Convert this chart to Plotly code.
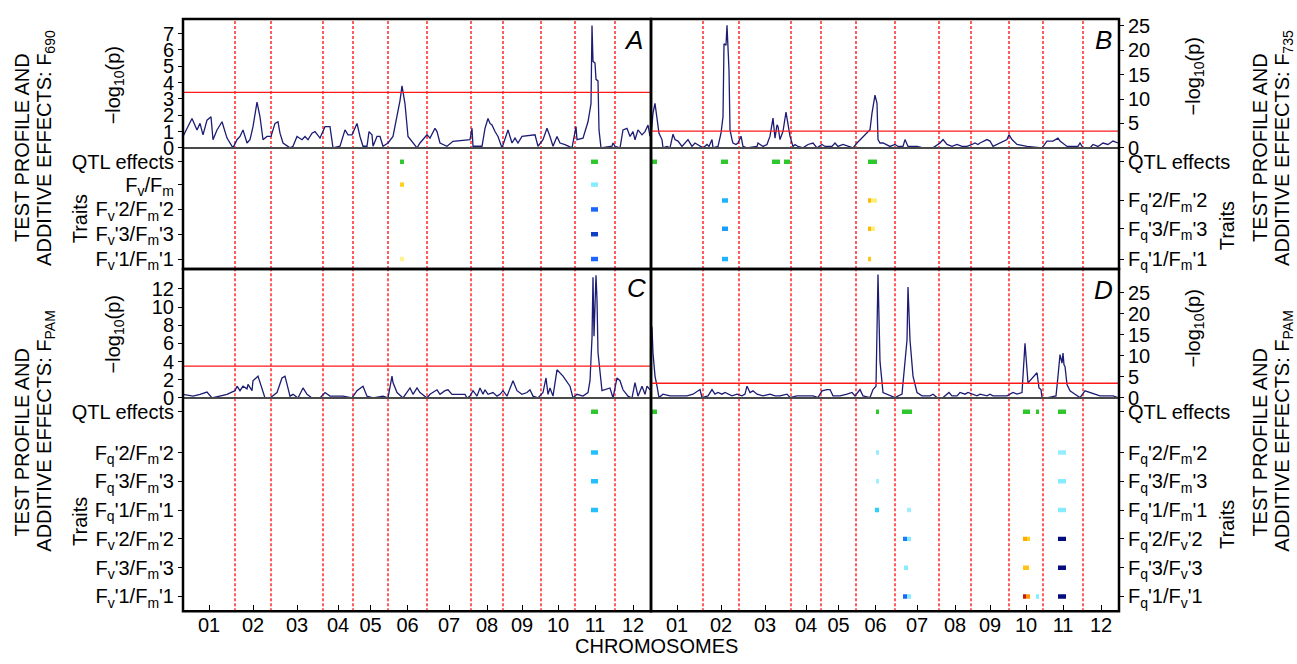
import plotly.graph_objects as go
import numpy as np

# ---------------- data ----------------
chrom_names = ["01", "02", "03", "04", "05", "06", "07", "08", "09", "10", "11", "12"]
chrom_len = [52, 36, 52, 30, 35, 39, 44, 32, 38, 34, 40, 36]

A_pos = [0, 9, 14, 17, 20, 24, 28, 30, 34, 39,
         44, 50, 54, 57, 60, 64, 67, 70, 74, 77,
         80, 84, 88, 92, 95, 97, 100, 107, 110, 114,
         119, 122, 125, 129, 132, 137, 142, 147, 150, 157,
         162, 165, 169, 174, 177, 180, 184, 186, 189, 190,
         194, 197, 200, 205, 210, 214, 217, 219, 222, 225,
         234, 237, 244, 247, 252, 254, 257, 264, 270, 287,
         289, 290, 299, 302, 305, 307, 309, 312, 315, 319,
         322, 325, 329, 332, 335, 339, 352, 355, 360, 364,
         367, 370, 374, 377, 382, 389, 393, 394, 400, 405,
         408, 409, 410, 412, 413, 415, 416, 418, 429, 430,
         432, 437, 440, 444, 447, 450, 452, 455, 459, 462,
         465, 467]
A_val = [0.7, 1.8, 1.1, 1.5, 0.8, 1.7, 1.9, 0.5, 1.1, 1.6,
         0.6, 0.0, 0.5, 0.7, 1.1, 0.3, 0.5, 1.3, 2.8, 1.9,
         0.5, 0.7, 0.7, 1.5, 1.6, 0.9, 0.3, 0.0, 0.1, 0.7,
         0.5, 0.7, 0.5, 0.9, 1.0, 0.6, 1.3, 1.3, 0.0, 0.1,
         1.1, 0.8, 0.8, 1.5, 0.7, 0.1, 0.1, 1.0, 0.8, 0.1,
         0.7, 0.7, 0.1, 0.3, 0.7, 1.9, 2.9, 3.8, 2.7, 0.7,
         0.0, 0.3, 0.8, 0.6, 1.2, 1.0, 0.3, 0.1, 0.4, 0.5,
         1.2, 0.1, 0.1, 1.2, 1.8, 1.5, 1.4, 1.0, 0.7, 0.0,
         0.5, 1.1, 0.3, 0.6, 0.3, 0.7, 0.8, 0.1, 0.5, 1.2,
         0.7, 0.1, 0.7, 0.3, 0.2, 0.0, 1.3, 0.5, 0.6, 1.6,
         2.7, 7.5, 5.3, 5.2, 4.2, 4.1, 1.1, 0.0, 0.1, 0.3,
         0.1, 0.0, 1.1, 1.2, 0.7, 1.0, 0.5, 1.1, 0.8, 1.0,
         1.4, 0.7]

B_pos = [0, 2, 4, 6, 8, 11, 12, 16, 19, 22,
         24, 27, 31, 37, 41, 44, 49, 52, 56, 58,
         61, 62, 67, 70, 72, 73, 75, 76, 78, 79,
         81, 82, 85, 87, 90, 92, 96, 106, 107, 112,
         116, 119, 122, 124, 126, 127, 129, 132, 135, 137,
         139, 142, 144, 147, 152, 157, 162, 166, 171, 174,
         181, 184, 187, 192, 197, 202, 206, 211, 214, 219,
         221, 224, 226, 227, 229, 232, 239, 244, 247, 252,
         254, 257, 266, 272, 282, 289, 292, 296, 301, 306,
         311, 316, 321, 324, 327, 329, 336, 339, 342, 352,
         356, 358, 361, 366, 376, 391, 396, 402, 407, 409,
         416, 427, 429, 432, 439, 442, 447, 452, 457, 462,
         467]
B_val = [2.5, 7.1, 9.1, 6.4, 3.0, 1.7, 0.0, 0.3, 0.0, 2.8,
         1.7, 1.4, 0.3, 1.7, 0.3, 1.0, 0.3, 0.0, 0.7, 0.3,
         1.7, 0.0, 0.3, 3.0, 6.4, 21.3, 21.0, 25.1, 15.9, 3.7,
         1.7, 1.0, 0.7, 1.0, 2.4, 0.3, 0.0, 0.3, 1.0, 0.3,
         0.7, 2.4, 6.1, 2.0, 4.7, 4.4, 1.7, 3.4, 7.3, 5.1,
         2.4, 0.3, 0.7, 0.3, 0.0, 0.7, 1.0, 0.0, 0.7, 0.3,
         0.3, 1.0, 0.3, 0.7, 0.3, 0.0, 1.0, 2.0, 2.7, 3.7,
         7.1, 10.8, 9.1, 1.7, 1.0, 1.0, 0.3, 0.7, 0.3, 0.3,
         1.7, 0.3, 0.3, 0.0, 0.0, 1.0, 1.7, 0.7, 0.3, 0.7,
         0.3, 0.3, 0.7, 1.0, 0.7, 1.0, 1.7, 1.4, 0.3, 1.4,
         1.7, 2.7, 1.7, 0.7, 0.3, 0.0, 1.4, 1.4, 2.0, 1.4,
         0.3, 0.3, 1.0, 0.0, 0.0, 0.7, 0.3, 1.0, 0.7, 1.4,
         1.0]

C_pos = [0, 10, 17, 24, 29, 37, 44, 52, 54, 57,
         60, 64, 65, 69, 70, 75, 79, 82, 87, 94,
         99, 102, 107, 110, 115, 120, 124, 129, 137, 142,
         147, 160, 169, 174, 180, 184, 190, 200, 205, 209,
         210, 214, 220, 224, 227, 230, 234, 237, 244, 247,
         254, 257, 262, 265, 269, 282, 284, 287, 290, 294,
         297, 300, 302, 305, 310, 314, 317, 320, 324, 330,
         334, 339, 344, 347, 350, 355, 360, 363, 365, 367,
         370, 374, 380, 387, 390, 394, 400, 405, 407, 409,
         410, 411, 413, 414, 415, 419, 427, 430, 434, 437,
         440, 445, 449, 452, 455, 459, 462, 464, 467]
C_val = [0.4, 0.2, 0.4, 0.65, 0.0, 0.2, 0.4, 0.8, 1.3, 0.8,
         1.3, 1.0, 1.5, 0.8, 1.9, 2.4, 0.9, 0.0, 0.0, 0.6,
         2.2, 2.4, 0.2, 0.4, 0.0, 1.1, 0.4, 0.0, 0.0, 0.6,
         0.2, 0.2, 0.0, 0.8, 1.3, 0.2, 0.0, 0.2, 0.0, 2.4,
         1.7, 0.6, 0.0, 0.6, 1.1, 0.4, 1.1, 0.6, 0.0, 0.4,
         0.9, 0.4, 0.8, 0.9, 0.4, 0.4, 0.0, 0.2, 0.8, 0.2,
         1.1, 0.4, 0.9, 0.4, 0.6, 0.2, 0.4, 0.8, 0.2, 1.9,
         0.8, 0.4, 0.6, 0.9, 0.2, 0.0, 0.6, 2.2, 0.4, 1.1,
         0.2, 3.1, 2.4, 1.3, 0.0, 0.4, 0.2, 0.6, 1.9, 6.6,
         13.3, 6.8, 13.5, 10.8, 5.0, 0.8, 1.1, 0.0, 2.2, 1.9,
         0.9, 0.2, 0.0, 1.7, 0.2, 1.3, 0.4, 1.3, 0.9]

D_pos = [0, 1, 2, 4, 6, 8, 12, 19, 26, 36,
         42, 49, 51, 57, 61, 64, 67, 71, 74, 81,
         86, 91, 94, 96, 99, 102, 106, 112, 119, 124,
         129, 136, 139, 146, 152, 162, 167, 171, 176, 179,
         182, 189, 196, 201, 204, 209, 212, 219, 222, 225,
         227, 229, 232, 239, 244, 251, 254, 256, 257, 259,
         262, 266, 271, 279, 282, 286, 292, 298, 301, 306,
         309, 314, 317, 322, 326, 329, 336, 339, 342, 356,
         359, 362, 366, 371, 374, 376, 377, 386, 388, 390,
         391, 397, 405, 407, 409, 411, 412, 413, 414, 416,
         419, 424, 429, 434, 439, 442, 449, 456, 462, 467]
D_val = [17.5, 16.6, 10.7, 5.2, 2.8, 0.1, 0.9, 0.5, 0.5, 0.5,
         0.9, 2.0, 0.1, 0.5, 2.0, 0.9, 1.3, 0.9, 1.3, 0.5,
         0.9, 0.5, 0.9, 2.8, 1.3, 1.7, 0.9, 0.5, 0.9, 0.5,
         0.5, 0.9, 0.1, 0.5, 0.5, 0.5, 0.1, 1.7, 2.0, 2.0,
         0.5, 0.5, 0.9, 1.3, 0.5, 2.0, 0.5, 0.1, 2.0, 2.8,
         29.4, 8.7, 1.3, 0.5, 0.1, 0.9, 9.1, 13.8, 26.4, 13.8,
         5.2, 1.3, 0.5, 0.5, 0.9, 0.1, 0.1, 1.3, 0.5, 0.5,
         1.3, 0.9, 1.3, 0.9, 0.5, 0.9, 0.5, 0.9, 0.5, 0.5,
         0.9, 1.3, 0.9, 1.3, 13.0, 6.0, 3.6, 6.0, 2.4, 2.0,
         0.1, 0.1, 0.5, 5.2, 10.3, 8.3, 10.7, 7.9, 7.5, 3.2,
         1.7, 0.9, 0.1, 1.7, 1.3, 0.9, 0.5, 0.5, 0.5, 0.1]

threshold = {"A": 3.4, "B": 3.45, "C": 3.5, "D": 3.5}
ymax = {"A": 7.9, "B": 26.4, "C": 14.2, "D": 30.7}
yticks = {"A": [0, 1, 2, 3, 4, 5, 6, 7], "B": [0, 5, 10, 15, 20, 25],
          "C": [0, 2, 4, 6, 8, 10, 12], "D": [0, 5, 10, 15, 20, 25]}

rows_A = ["QTL effects", "F<sub>v</sub>/F<sub>m</sub>", "F<sub>v</sub>'2/F<sub>m</sub>'2",
          "F<sub>v</sub>'3/F<sub>m</sub>'3", "F<sub>v</sub>'1/F<sub>m</sub>'1"]
rows_B = ["QTL effects", "F<sub>q</sub>'2/F<sub>m</sub>'2", "F<sub>q</sub>'3/F<sub>m</sub>'3",
          "F<sub>q</sub>'1/F<sub>m</sub>'1"]
rows_C = ["QTL effects", "F<sub>q</sub>'2/F<sub>m</sub>'2", "F<sub>q</sub>'3/F<sub>m</sub>'3",
          "F<sub>q</sub>'1/F<sub>m</sub>'1", "F<sub>v</sub>'2/F<sub>m</sub>'2",
          "F<sub>v</sub>'3/F<sub>m</sub>'3", "F<sub>v</sub>'1/F<sub>m</sub>'1"]
rows_D = ["QTL effects", "F<sub>q</sub>'2/F<sub>m</sub>'2", "F<sub>q</sub>'3/F<sub>m</sub>'3",
          "F<sub>q</sub>'1/F<sub>m</sub>'1", "F<sub>q</sub>'2/F<sub>v</sub>'2",
          "F<sub>q</sub>'3/F<sub>v</sub>'3", "F<sub>q</sub>'1/F<sub>v</sub>'1"]

A_qtl_start = [217, 408]
A_qtl_end = [221, 415]
A_eff_row = [1, 1, 2, 3, 4, 4]
A_eff_start = [217, 408, 408, 408, 217, 408]
A_eff_end = [221, 415, 415, 415, 221, 415]
A_eff_val = [0.4, -0.15, -0.6, -0.78, 0.15, -0.6]

B_qtl_start = [1, 70, 121, 133, 217]
B_qtl_end = [6, 77, 129, 139, 226]
B_eff_row = [1, 1, 1, 2, 2, 2, 3, 3]
B_eff_start = [71, 217, 220, 71, 217, 220, 71, 217]
B_eff_end = [77, 220, 226, 77, 220, 224, 77, 220]
B_eff_val = [-0.42, 0.5, 0.2, -0.48, 0.5, 0.2, -0.42, 0.45]

C_qtl_start = [408]
C_qtl_end = [415]
C_eff_row = [1, 2, 3]
C_eff_start = [408, 408, 408]
C_eff_end = [415, 415, 415]
C_eff_val = [-0.38, -0.38, -0.38]

D_qtl_start = [1, 225, 251, 372, 385, 407]
D_qtl_end = [6, 228, 261, 379, 388, 415]
D_eff_row = [1, 1, 2, 2, 3, 3, 3, 4, 4, 4, 4, 4, 5, 5, 5, 6, 6, 6, 6, 6, 6]
D_eff_start = [225, 407, 225, 407, 224, 256, 407, 252, 256, 372, 376, 407,
               253, 372, 407, 252, 256, 372, 375, 385, 407]
D_eff_end = [228, 415, 228, 415, 228, 260, 415, 256, 260, 376, 379, 415,
             257, 378, 415, 256, 260, 375, 379, 388, 415]
D_eff_val = [-0.12, -0.12, -0.1, -0.15, -0.3, -0.1, -0.15, -0.55, -0.15, 0.55, 0.4, -0.95,
             -0.15, 0.45, -0.95, -0.6, -0.15, 0.9, 0.6, -0.15, -0.95]

# ---------------- layout constants ----------------
W, H = 1297, 664
H_EFF = 654  # vertical extent the page is actually photographed at
FONT = "Liberation Sans, Arial, sans-serif"
NAVY = "#1c1c74"
RED = "#ff1a1a"
GREEN = "#2ec82e"
EFFECT_SCALE = [[0.0, "#000070"], [0.05, "#0a1a8c"], [0.11, "#1040c8"], [0.2, "#1a66ff"],
                [0.26, "#1a9cff"], [0.31, "#22c0ff"], [0.36, "#30d8f0"], [0.425, "#88ecff"],
                [0.499, "#c8f8ff"], [0.501, "#fffcc8"], [0.58, "#fff38a"], [0.7, "#ffd21e"],
                [0.78, "#ffa800"], [0.87, "#ff5a00"], [0.95, "#c81a0a"], [1.0, "#800000"]]


def fx(p):
    return p / W


def fy(p):
    return max(0.0, 1 - p / H_EFF)


GEOM = {
    "A": dict(x=(183, 651), prof=(15, 145), trait=(145, 267), side="left", idx=1,
              rows_px=[14, 37, 62, 87, 112]),
    "B": dict(x=(651, 1119), prof=(15, 145), trait=(145, 267), side="right", idx=3,
              rows_px=[14, 53, 81.5, 112]),
    "C": dict(x=(183, 651), prof=(267, 397), trait=(397, 612), side="left", idx=5,
              rows_px=[14, 55, 84, 113, 142, 171, 200]),
    "D": dict(x=(651, 1119), prof=(267, 397), trait=(397, 612), side="right", idx=7,
              rows_px=[14, 55, 84, 113, 142, 171, 200]),
}

PANELS = {
    "A": (A_pos, A_val, rows_A, A_qtl_start, A_qtl_end, A_eff_row, A_eff_start, A_eff_end, A_eff_val),
    "B": (B_pos, B_val, rows_B, B_qtl_start, B_qtl_end, B_eff_row, B_eff_start, B_eff_end, B_eff_val),
    "C": (C_pos, C_val, rows_C, C_qtl_start, C_qtl_end, C_eff_row, C_eff_start, C_eff_end, C_eff_val),
    "D": (D_pos, D_val, rows_D, D_qtl_start, D_qtl_end, D_eff_row, D_eff_start, D_eff_end, D_eff_val),
}

total_len = float(sum(chrom_len))
bounds = np.cumsum(chrom_len)
centers = bounds - np.array(chrom_len) / 2.0


def axname(i):
    return "" if i == 1 else str(i)


fig = go.Figure()
shapes = []
layout = {}
tickfont = dict(family=FONT, size=20, color="black")

for key, g in GEOM.items():
    pos, val, rows, qs, qe, er, es, ee, ev = PANELS[key]
    ip, it = g["idx"], g["idx"] + 1
    xp, yp, xt, yt = "x" + axname(ip), "y" + axname(ip), "x" + axname(it), "y" + axname(it)
    x0, x1 = g["x"]
    trait_h = g["trait"][1] - g["trait"][0]
    bottom = g["trait"][1] > 500

    fig.add_trace(go.Scatter(x=pos, y=val, mode="lines", line=dict(color=NAVY, width=1.3),
                             xaxis=xp, yaxis=yp, showlegend=False, hoverinfo="skip"))
    fig.add_trace(go.Bar(y=[g["rows_px"][0]] * len(qs), base=qs,
                         x=[e - s for s, e in zip(qs, qe)], orientation="h", width=4.5,
                         marker=dict(color=GREEN, line=dict(width=0)),
                         xaxis=xt, yaxis=yt, showlegend=False, hoverinfo="skip"))
    fig.add_trace(go.Bar(y=[g["rows_px"][r] for r in er], base=es,
                         x=[e - s for s, e in zip(es, ee)], orientation="h", width=4.5,
                         marker=dict(color=ev, colorscale=EFFECT_SCALE, cmin=-1, cmax=1,
                                     line=dict(width=0)),
                         xaxis=xt, yaxis=yt, showlegend=False, hoverinfo="skip"))

    layout["xaxis" + axname(ip)] = dict(domain=[fx(x0), fx(x1)], range=[0, total_len], anchor=yp,
                                        showticklabels=False, ticks="", showgrid=False,
                                        zeroline=False, showline=False, fixedrange=True)
    layout["yaxis" + axname(ip)] = dict(domain=[fy(g["prof"][1]), fy(g["prof"][0])],
                                        range=[0, ymax[key]], anchor=xp, side=g["side"],
                                        tickvals=yticks[key], ticks="outside", ticklen=4,
                                        tickwidth=1.2, tickcolor="black", tickfont=tickfont,
                                        showgrid=False, zeroline=False, showline=False,
                                        fixedrange=True)
    xt_ax = dict(domain=[fx(x0), fx(x1)], range=[0, total_len], anchor=yt, showgrid=False,
                 zeroline=False, showline=False, fixedrange=True)
    if bottom:
        xt_ax.update(tickvals=list(centers), ticktext=chrom_names, ticks="inside", ticklen=6,
                     tickwidth=1.2, tickcolor="black", tickfont=tickfont, showticklabels=True,
                     ticklabelstandoff=0)
    else:
        xt_ax.update(showticklabels=False, ticks="")
    layout["xaxis" + axname(it)] = xt_ax
    layout["yaxis" + axname(it)] = dict(domain=[fy(g["trait"][1]), fy(g["trait"][0])],
                                        range=[trait_h, 0], anchor=xt, side=g["side"],
                                        tickvals=g["rows_px"], ticktext=rows, ticks="outside",
                                        ticklen=4, tickwidth=1.2, tickcolor="black",
                                        tickfont=tickfont, showgrid=False, zeroline=False,
                                        showline=False, fixedrange=True)

    for b in bounds[:-1]:
        shapes.append(dict(type="line", xref=xp, yref="paper", x0=b, x1=b,
                           y0=fy(g["trait"][1]), y1=fy(g["prof"][0]), layer="below",
                           line=dict(color=RED, width=1.4, dash="3px,2px")))
    shapes.append(dict(type="line", xref=xp, yref=yp, x0=0, x1=total_len,
                       y0=threshold[key], y1=threshold[key], layer="above",
                       line=dict(color=RED, width=1.3)))
    shapes.append(dict(type="line", xref="paper", yref="paper", x0=fx(x0), x1=fx(x1),
                       y0=fy(g["prof"][1]), y1=fy(g["prof"][1]),
                       line=dict(color="#4a4a4a", width=2)))
    shapes.append(dict(type="rect", xref="paper", yref="paper", x0=fx(x0), x1=fx(x1),
                       y0=fy(g["trait"][1]), y1=fy(g["prof"][0]),
                       line=dict(color="black", width=2.5)))


def ann(text, x, y, size=20, angle=0):
    return dict(text=text, x=fx(x), y=fy(y), xref="paper", yref="paper", showarrow=False,
                textangle=angle, xanchor="center", yanchor="middle",
                font=dict(family=FONT, size=size, color="black"))


annotations = [
    ann("<i>A</i>", 633, 36, 26), ann("<i>B</i>", 1103, 36, 26),
    ann("<i>C</i>", 636, 286, 26), ann("<i>D</i>", 1103, 288, 26),
    ann("TEST PROFILE AND", 22, 145, angle=-90),
    ann("ADDITIVE EFFECTS: F<sub>690</sub>", 46, 145, angle=-90),
    ann("TEST PROFILE AND", 22, 442, angle=-90),
    ann("ADDITIVE EFFECTS: F<sub>PAM</sub>", 46, 430, angle=-90),
    ann("TEST PROFILE AND", 1260, 145, angle=-90),
    ann("ADDITIVE EFFECTS: F<sub>735</sub>", 1284, 145, angle=-90),
    ann("TEST PROFILE AND", 1260, 442, angle=-90),
    ann("ADDITIVE EFFECTS: F<sub>PAM</sub>", 1284, 430, angle=-90),
    ann("−log<sub>10</sub>(p)", 114, 82, angle=-90),
    ann("−log<sub>10</sub>(p)", 1194, 73, angle=-90),
    ann("−log<sub>10</sub>(p)", 114, 333, angle=-90),
    ann("−log<sub>10</sub>(p)", 1194, 327, angle=-90),
    ann("Traits", 80, 217, angle=-90),
    ann("Traits", 1227, 224, angle=-90),
    ann("Traits", 80, 522, angle=-90),
    ann("Traits", 1227, 525, angle=-90),
    ann("CHROMOSOMES", 656, 647),
]

fig.update_layout(
    width=W, height=H, margin=dict(l=0, r=0, t=0, b=0, pad=0),
    paper_bgcolor="white", plot_bgcolor="rgba(0,0,0,0)",
    barmode="overlay", showlegend=False, shapes=shapes, annotations=annotations,
    font=dict(family=FONT, size=20, color="black"),
    **layout,
)

fig.write_html("out.html", config={"displayModeBar": False},
               post_script="document.body.style.margin='0';document.body.style.overflow='hidden';")
